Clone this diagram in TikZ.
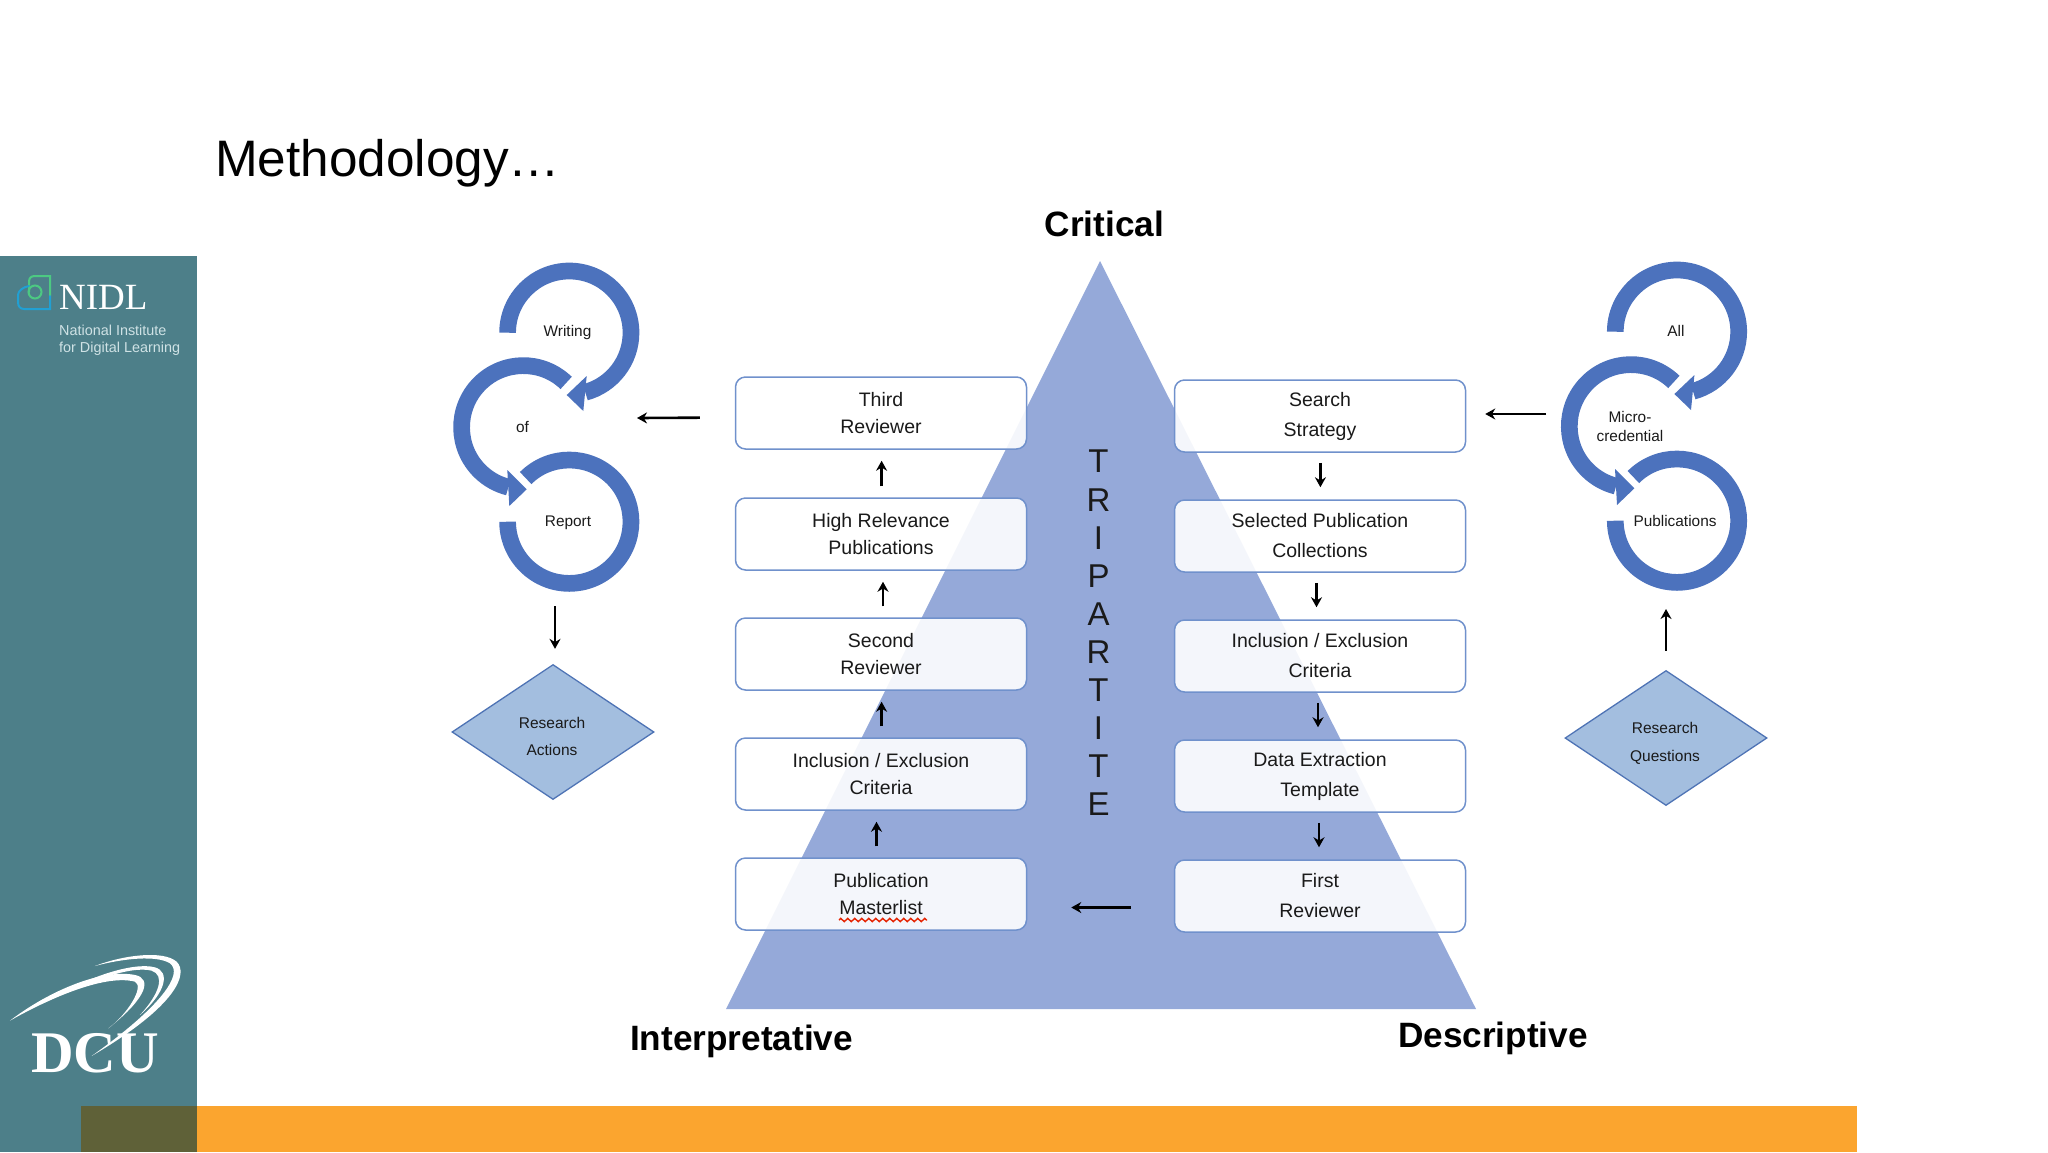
\documentclass[tikz,border=0pt]{standalone}
\usepackage{fontspec}
\setmainfont{Liberation Sans}
\newfontfamily\logoserif{Liberation Serif}
\usetikzlibrary{arrows.meta,calc,shapes.geometric,decorations.pathmorphing}
\definecolor{panelteal}{HTML}{4D7F89}
\definecolor{bandorange}{HTML}{FBA52F}
\definecolor{bandolive}{HTML}{5F6138}
\definecolor{pyramidblue}{HTML}{95A9D9}
\definecolor{ringblue}{HTML}{4C72BD}
\definecolor{boxedge}{HTML}{7091CC}
\definecolor{diamondfill}{HTML}{A3BEDF}
\definecolor{diamondedge}{HTML}{4F74B5}
\definecolor{logotext}{HTML}{CFE2E5}
\definecolor{inktext}{HTML}{1A1A1A}
\tikzset{
  revbox/.style={draw=boxedge, line width=1.5pt, fill=white, fill opacity=0.9, text opacity=1, rounded corners=10pt, minimum width=291pt, minimum height=72pt, inner sep=0pt, align=center, text=inktext},
  leftfont/.style={font=\fontsize{19.5}{27.5}\selectfont},
  rightfont/.style={font=\fontsize{19.5}{30}\selectfont},
  flow/.style={-{Stealth[length=10pt,width=11pt]}, line width=2.6pt, black},
  ring/.style={draw=ringblue, line width=16.7pt},
  ringhead/.style={fill=ringblue},
  ringlabel/.style={font=\fontsize{15.4}{18.5}\selectfont, align=center, text=inktext},
  corner/.style={font=\bfseries\fontsize{35.2}{40}\selectfont, text=black},
  choice/.style={diamond, aspect=1.5, draw=diamondedge, line width=1.3pt, fill=diamondfill, minimum width=202pt, minimum height=135pt, inner sep=0pt},
  choicelabel/.style={inner sep=0pt, align=center, text=inktext, font=\fontsize{15.5}{27.5}\selectfont},
}
\begin{document}
\begin{tikzpicture}[x=1pt, y=-1pt]
  \useasboundingbox (0,0) rectangle (2048,1152);
  % side panel and bottom band
  \fill[panelteal] (0,256) rectangle (197,1152);
  \fill[bandorange] (197,1106) rectangle (1857,1152);
  \fill[bandolive] (81,1106) rectangle (197,1152);
  % NIDL mark
  \draw[teal!60!green!70!white, line width=2pt, line cap=round] (29,292) -- (29,282) .. controls (29,278) and (31,276) .. (35,276) -- (50,276) -- (50,296);
  \draw[cyan!70!teal, line width=2pt, line cap=round] (50,296) -- (50,309) -- (24,309) .. controls (20,309) and (18,306) .. (18,302) -- (18,295) .. controls (18,291) and (23,287) .. (29,286);
  \draw[teal!60!green!70!white, line width=2pt] (35,292) circle (6.5pt);
  \node[anchor=west, inner sep=0pt, text=white, font=\logoserif\fontsize{37}{40}\selectfont] (nidlname) at (59,297) {NIDL};
  \node[anchor=north west, inner sep=0pt, align=left, text=logotext, font=\fontsize{14.4}{17}\selectfont] (nidlfull) at (59,324.5) {National Institute\\for Digital Learning};
  % DCU mark
  \node[inner sep=0pt, text=white, font=\logoserif\bfseries\fontsize{59}{64}\selectfont] (dcuname) at (95,1053) {DCU};
  \begin{scope}[shift={(0,930)}, x=0.3333pt, y=-0.3333pt]
    \fill[white] (30,272) .. controls (150,180) and (310,115) .. (405,135) .. controls (455,145) and (445,200) .. (325,295) .. controls (380,255) and (435,170) .. (405,155) .. controls (310,130) and (130,215) .. (30,272);
    \fill[white] (125,222) .. controls (260,140) and (400,95) .. (465,112) .. controls (510,125) and (500,185) .. (420,255) .. controls (480,190) and (495,135) .. (455,122) .. controls (390,105) and (250,160) .. (125,222);
    \fill[white] (285,108) .. controls (370,75) and (490,60) .. (530,95) .. controls (565,130) and (535,225) .. (275,378) .. controls (490,225) and (550,130) .. (510,100) .. controls (470,75) and (370,85) .. (285,108);
  \end{scope}
  % title
  \node[anchor=base west, inner sep=0pt, text=black, font=\fontsize{51.3}{56}\selectfont] (slidetitle) at (215,176) {Methodology…};
  % pyramid
  \fill[pyramidblue] (1100,261) -- (1476,1009) -- (726,1009) -- cycle;
  \node[align=center, inner sep=0pt, text=inktext, font=\fontsize{33}{38.1}\selectfont] (tripartite) at (1098.5,633) {T\\R\\I\\P\\A\\R\\T\\I\\T\\E};
  \node[corner] (critical) at (1104.5,224) {Critical};
  \node[corner] (interpretative) at (741.5,1041.5) {Interpretative};
  \node[corner] (descriptive) at (1493,1038.5) {Descriptive};
  % left column
  \node[revbox, leftfont] (third) at (881,413) {Third\\Reviewer};
  \node[revbox, leftfont] (highrel) at (881,534) {High Relevance\\Publications};
  \node[revbox, leftfont] (second) at (881,654) {Second\\Reviewer};
  \node[revbox, leftfont] (inclleft) at (881,774) {Inclusion / Exclusion\\Criteria};
  \node[revbox, leftfont] (pubmaster) at (881,894) {Publication\\Masterlist};
  % right column
  \node[revbox, rightfont] (search) at (1320,416) {Search\\Strategy};
  \node[revbox, rightfont] (selected) at (1320,536) {Selected Publication\\Collections};
  \node[revbox, rightfont] (inclright) at (1320,656) {Inclusion / Exclusion\\Criteria};
  \node[revbox, rightfont] (extract) at (1320,776) {Data Extraction\\Template};
  \node[revbox, rightfont] (first) at (1320,896) {First\\Reviewer};
  % spell-check mark
  \draw[red!70!orange!90!black, line width=1.4pt, decorate, decoration={zigzag, segment length=7pt, amplitude=1.6pt}] (839,920) -- (927,920);
  % arrows between boxes
  \foreach \from/\to/\off in {pubmaster/inclleft/-4.5, inclleft/second/0.6, second/highrel/2, highrel/third/0.6}
    \draw[flow, shorten <=11pt, shorten >=11pt] ([xshift=\off pt]\from.north) -- ([xshift=\off pt]\to.south);
  \foreach \from/\to/\off in {search/selected/0.4, selected/inclright/-3.5, inclright/extract/-2, extract/first/-1}
    \draw[flow, shorten <=10pt, shorten >=12pt] ([xshift=\off pt]\from.south) -- ([xshift=\off pt]\to.north);
  \draw[flow, shorten <=43pt, shorten >=44pt] ([yshift=-11.5pt]first.west) -- ([yshift=-13.5pt]pubmaster.east);
  % ring arrows
  \foreach \cx/\cy in {569.3/332.7, 1677/331.7} {
    \begin{scope}[shift={(\cx,\cy)}]
      \draw[ring] (180:61.7pt) arc[start angle=180, end angle=-75, radius=61.7pt];
      \fill[ringhead] (-2.6,62.3) -- (17.4,43.3) -- (14,78.3) -- cycle;
      \draw[ring] ($(-46,94.6)+(46:61.7pt)$) arc[start angle=46, end angle=256, radius=61.7pt];
      \fill[ringhead] (-42.6,156.6) -- (-62,137.3) -- (-60,173.3) -- cycle;
      \draw[ring] ($(0,189)+(135:61.7pt)$) arc[start angle=135, end angle=-180, radius=61.7pt];
    \end{scope}
  }
  \node[ringlabel] (writing) at (567.5,333) {Writing};
  \node[ringlabel] (of) at (522.5,426.5) {of};
  \node[ringlabel] (report) at (568,523) {Report};
  \node[ringlabel] (all) at (1676,331) {All};
  \node[ringlabel] (micro) at (1630,426.5) {Micro-\\credential};
  \node[ringlabel] (publications) at (1675,521) {Publications};
  % diamonds
  \node[choice] (actions) at (553,732) {};
  \node[choicelabel] (actionstext) at (552,736.5) {Research\\Actions};
  \node[choice] (questions) at (1666,738) {};
  \node[choicelabel] (questionstext) at (1665,743.5) {Research\\Questions};
  % arrows to and from the rings
  \coordinate (ringleftin) at (637,418);
  \coordinate (ringleftout) at (555,606);
  \coordinate (ringrightout) at (1546,414);
  \coordinate (ringrightin) at (1666,609);
  \draw[flow, shorten <=35pt] ([yshift=-4.5pt]third.west) -- (ringleftin);
  \draw[flow, shorten >=19pt] (ringrightout) -- ([yshift=2pt]search.east);
  \draw[flow, shorten >=15pt] (ringleftout) -- ([xshift=2pt]actions.north);
  \draw[flow, shorten <=19pt] (questions.north) -- (ringrightin);
\end{tikzpicture}
\end{document}
